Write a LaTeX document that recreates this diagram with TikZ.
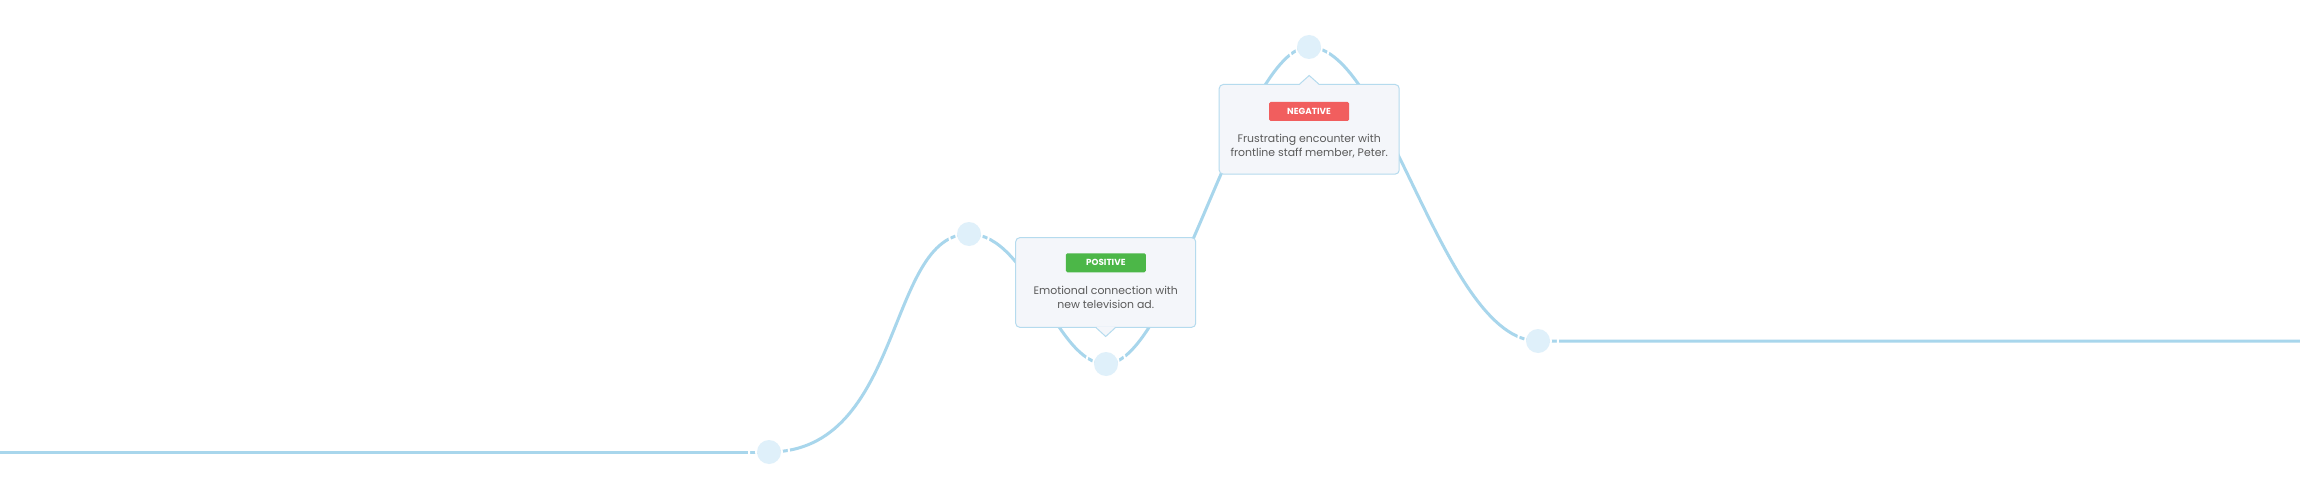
\documentclass[tikz,border=0pt]{standalone}
\usepackage{fontspec}
\setmainfont{Poppins}
\usetikzlibrary{backgrounds}
\definecolor{linec}{RGB}{168,214,236}
\definecolor{dotc}{RGB}{223,240,250}
\definecolor{cardfill}{RGB}{244,246,250}
\definecolor{cardborder}{RGB}{181,219,238}
\definecolor{posc}{RGB}{76,183,72}
\definecolor{negc}{RGB}{241,94,94}
\definecolor{textc}{RGB}{90,90,90}
\begin{document}
\begin{tikzpicture}[x=1pt,y=-1pt,
  dot/.style={circle,fill=dotc,minimum size=24pt,inner sep=0pt},
  curve/.style={draw=linec,line width=3pt},
  ring/.style={draw=white,line width=2pt},
  card/.style={draw=cardborder,fill=cardfill,line width=1pt,rounded corners=4pt,minimum width=180pt,minimum height=89.6pt,inner sep=0pt},
  badge/.style={text=white,font=\fontsize{8.8}{10}\selectfont\bfseries,minimum width=80pt,minimum height=19pt,rounded corners=1.5pt,inner sep=0pt},
  desc/.style={text=textc,font=\fontsize{10.9}{14}\selectfont,align=center,inner sep=0pt},
  pointer/.style={fill=cardfill},
  pointeredge/.style={draw=cardborder,line width=1pt}]
\useasboundingbox (0,0) rectangle (2300,500);
% journey points
\node[dot] (n1) at (769,452) {};
\node[dot] (n2) at (969,234) {};
\node[dot] (n3) at (1106,364) {};
\node[dot] (n4) at (1309,47) {};
\node[dot] (n5) at (1538,341) {};
\coordinate (L) at (0,452);
\coordinate (R) at (2300,341);
% callout 1
\node[card] (b1) at (1105.7,282.5) {};
\fill[pointer] ([xshift=-9.5pt,yshift=0.9pt]b1.south) -- ([xshift=9.5pt,yshift=0.9pt]b1.south) -- ([yshift=-8.7pt]b1.south) -- cycle;
\draw[pointeredge] ([xshift=-9.5pt]b1.south) -- ([yshift=-8.7pt]b1.south) -- ([xshift=9.5pt]b1.south);
\node[badge,fill=posc] (g1) at (1105.8,262.8) {POSITIVE};
\node[desc] (t1) at (1105.7,297) {Emotional connection with\\new television ad.};
% callout 2
\node[card] (b2) at (1309.2,129.3) {};
\fill[pointer] ([xshift=-9.5pt,yshift=-0.9pt]b2.north) -- ([xshift=9.5pt,yshift=-0.9pt]b2.north) -- ([yshift=8.5pt]b2.north) -- cycle;
\draw[pointeredge] ([xshift=-9.5pt]b2.north) -- ([yshift=8.5pt]b2.north) -- ([xshift=9.5pt]b2.north);
\node[badge,fill=negc] (g2) at (1309,111.5) {NEGATIVE};
\node[desc] (t2) at (1309.2,146) {Frustrating encounter with\\frontline staff member, Peter.};
\begin{scope}[on background layer]
  \fill[white] (0,0) rectangle (2300,500);
  \draw[curve] (L) -- (n1.center);
  \draw[curve] (n1.center) .. controls (904,452) and (886,234) .. (n2.center)
     .. controls (1030,234) and (1055,364) .. (n3.center)
     .. controls (1173.7,364) and (1241.3,47) .. (n4.center)
     .. controls (1387,47) and (1443,341) .. (n5.center) -- (R);
  \foreach \n in {n1,n2,n3,n4,n5} {
    \draw[ring] (\n.center) circle[radius=13pt];
    \draw[ring] (\n.center) circle[radius=20pt];
  }
\end{scope}
\end{tikzpicture}
\end{document}
